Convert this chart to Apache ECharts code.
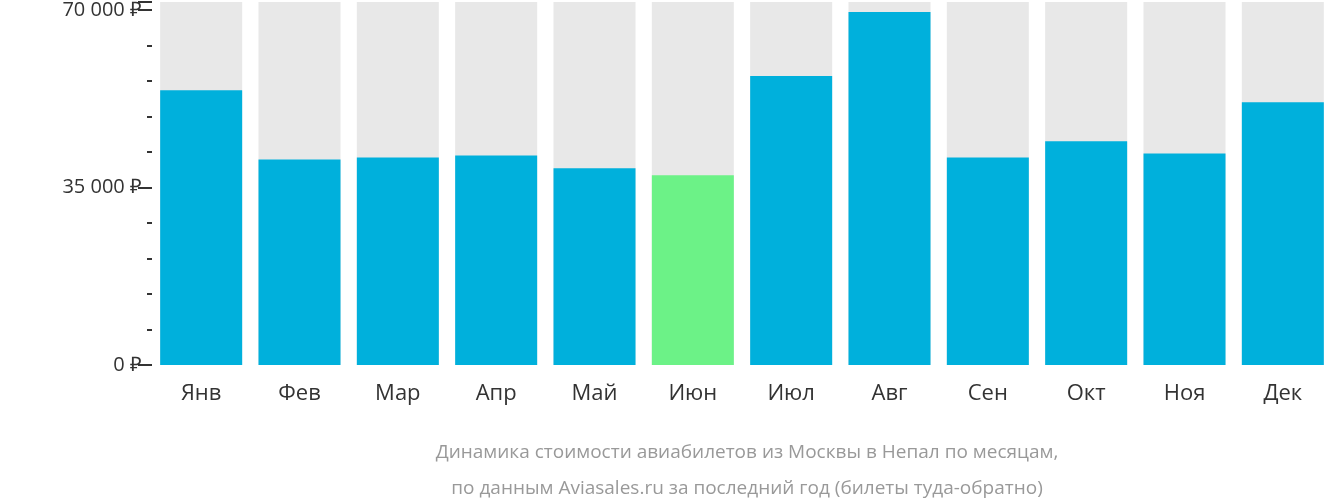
<!DOCTYPE html><html><head><meta charset="utf-8"><script src="https://cdn.jsdelivr.net/npm/echarts@6/dist/echarts.min.js"></script></head><body style="margin:0"><div id="c" style="width:1332px;height:502px"></div><script>
const categories=['Янв','Фев','Мар','Апр','Май','Июн','Июл','Авг','Сен','Окт','Ноя','Дек'];
const prices=[54200,40500,40900,41300,38800,37400,57000,69600,40900,44100,41700,51800];
const highlightIndex=5;
const yMax=71600;
const c=echarts.init(document.getElementById('c'));
c.setOption({animation:false,
grid:{left:152,right:0,top:0,bottom:137},
title:{text:'Динамика стоимости авиабилетов из Москвы в Непал по месяцам,\nпо данным Aviasales.ru за последний год (билеты туда-обратно)',left:742,textAlign:'center',top:430,textStyle:{color:'#999',fontSize:19,fontWeight:'normal',fontFamily:'Open Sans',lineHeight:36}},
xAxis:{type:'category',data:categories,axisLine:{show:false},axisTick:{show:false},axisLabel:{color:'#333',fontSize:22,fontFamily:'Open Sans',margin:18}},
yAxis:{type:'value',min:0,max:yMax,interval:35000,splitLine:{show:false},axisLine:{show:false},
axisTick:{show:true,length:14,lineStyle:{color:'#333',width:2}},
minorTick:{show:true,splitNumber:5,length:5,lineStyle:{color:'#333',width:2}},
axisLabel:{showMaxLabel:false,color:'#333',fontSize:20,fontFamily:'Open Sans',margin:10,formatter:v=>(v===0?'0':String(v).replace(/\B(?=(\d{3})+$)/g,' '))+' ₽'}},
series:[{type:'bar',data:categories.map(()=>yMax),barWidth:82,itemStyle:{color:'#e8e8e8'},silent:true},
{type:'bar',barGap:'-100%',barWidth:82,data:prices.map((v,i)=>({value:v,itemStyle:{color:i===highlightIndex?'#6cf287':'#00b0dc'}}))}]});
</script></body></html>
